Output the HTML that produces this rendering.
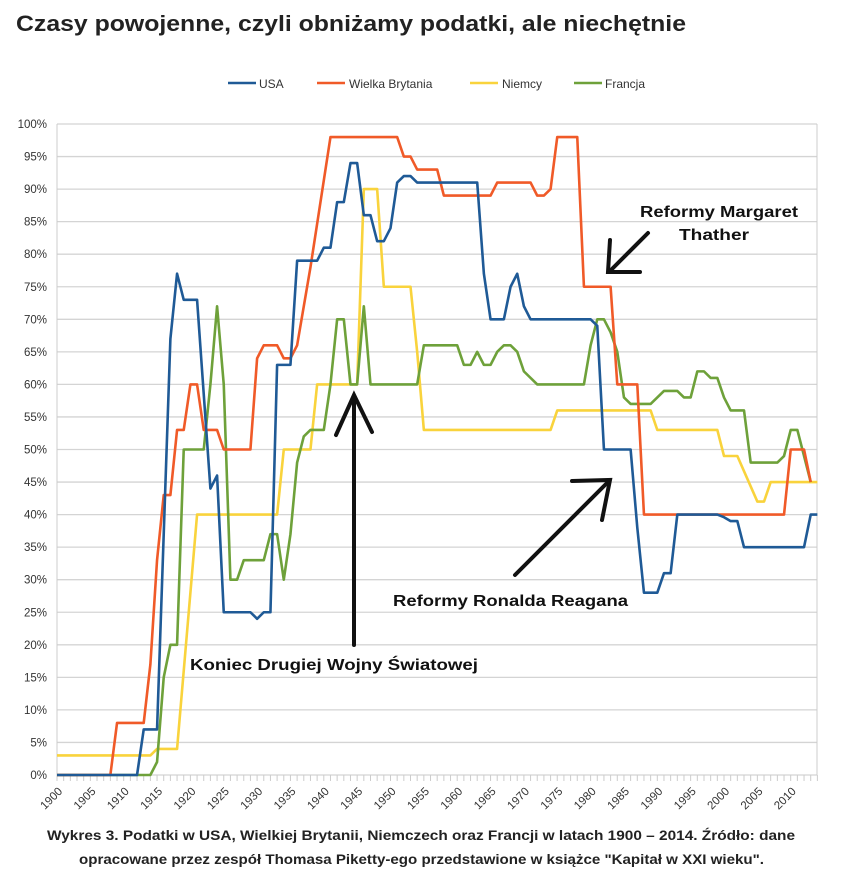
<!DOCTYPE html>
<html><head><meta charset="utf-8"><style>
body{margin:0;background:#fff;width:843px;height:878px;overflow:hidden;font-family:"Liberation Sans",sans-serif}
</style></head><body>
<svg id="s" width="843" height="878" xmlns="http://www.w3.org/2000/svg" font-family="Liberation Sans, sans-serif">
<text x="16" y="31" font-size="22" font-weight="bold" fill="#222" textLength="670" lengthAdjust="spacingAndGlyphs">Czasy powojenne, czyli obniżamy podatki, ale niechętnie</text>
<g id="grid"></g>
<g id="series" fill="none" stroke-width="2.6" stroke-linejoin="round"></g>
<g font-size="12" fill="#333">
<line x1="228" y1="83" x2="256" y2="83" stroke="#1f5a96" stroke-width="2.5"/><text x="259" y="88">USA</text>
<line x1="317" y1="83" x2="345" y2="83" stroke="#f05a28" stroke-width="2.5"/><text x="349" y="88">Wielka Brytania</text>
<line x1="470" y1="83" x2="498" y2="83" stroke="#f9d33c" stroke-width="2.5"/><text x="502" y="88">Niemcy</text>
<line x1="574" y1="83" x2="602" y2="83" stroke="#6ea13a" stroke-width="2.5"/><text x="605" y="88">Francja</text>
</g>
<g stroke="#111" stroke-width="4" fill="none" stroke-linecap="round">
<line x1="354" y1="645" x2="354" y2="398"/><polyline points="336,435 354,395 372,432"/>
<line x1="515" y1="575" x2="608" y2="482"/><polyline points="572,481 610,480 602,520"/>
<line x1="648" y1="233" x2="610" y2="271"/><polyline points="610,240 608,272 640,272"/>
</g>
<g font-size="16" font-weight="bold" fill="#111">
<text x="190" y="670" textLength="288" lengthAdjust="spacingAndGlyphs">Koniec Drugiej Wojny Światowej</text>
<text x="393" y="606" textLength="235" lengthAdjust="spacingAndGlyphs">Reformy Ronalda Reagana</text>
<text x="640" y="217" textLength="158" lengthAdjust="spacingAndGlyphs">Reformy Margaret</text>
<text x="679" y="240" textLength="70" lengthAdjust="spacingAndGlyphs">Thather</text>
</g>
<g font-size="14" font-weight="bold" fill="#222">
<text x="47" y="840" textLength="748" lengthAdjust="spacingAndGlyphs">Wykres 3. Podatki w USA, Wielkiej Brytanii, Niemczech oraz Francji w latach 1900 – 2014. Źródło: dane</text>
<text x="79" y="864" textLength="685" lengthAdjust="spacingAndGlyphs">opracowane przez zespół Thomasa Piketty-ego przedstawione w książce "Kapitał w XXI wieku".</text>
</g>
</svg>
<script>
function X(y){return 57+(y-1900)*6.67}
function Y(v){return 775-v*6.51}
var g=document.getElementById('grid'),h='';
for(var p=0;p<=100;p+=5){var y=Y(p);h+='<line x1="57" y1="'+y+'" x2="817" y2="'+y+'" stroke="#d4d4d4" stroke-width="1.3"/>';
h+='<text x="47" y="'+(y+4)+'" font-size="11.5" fill="#333" text-anchor="end">'+p+'%</text>';}
h+='<line x1="57" y1="124" x2="57" y2="775" stroke="#ccc"/><line x1="817" y1="124" x2="817" y2="775" stroke="#ccc"/>';
for(var yr=1900;yr<=2014;yr++){var x=X(yr);h+='<line x1="'+x+'" y1="775" x2="'+x+'" y2="781" stroke="#ccc"/>';
if(yr%5==0&&yr<=2010)h+='<text font-size="11.5" fill="#333" text-anchor="end" transform="translate('+(x+6)+',792) rotate(-45)">'+yr+'</text>';}
g.innerHTML=h;
function build(d){var pts=[];for(var i=0;i<d.length;i++){var a=d[i];for(var y=a[0];y<=a[1];y++)pts.push(X(y)+','+Y(a[2]));}return pts.join(' ');}
var S={
"#f9d33c":[[1900,1914,3],[1915,1918,4],[1921,1933,40],[1934,1938,50],[1939,1945,60],[1946,1948,90],[1949,1953,75],[1954,1954,65],[1955,1974,53],[1975,1989,56],[1990,1999,53],[2000,2002,49],[2005,2006,42],[2007,2014,45]],
"#6ea13a":[[1900,1914,0],[1915,1915,2],[1916,1916,15],[1917,1918,20],[1919,1922,50],[1923,1923,60],[1924,1924,72],[1925,1925,60],[1926,1927,30],[1928,1931,33],[1932,1933,37],[1934,1934,30],[1935,1935,37],[1936,1936,48],[1937,1937,52],[1938,1940,53],[1941,1941,60],[1942,1943,70],[1944,1945,60],[1946,1946,72],[1947,1954,60],[1955,1960,66],[1961,1962,63],[1963,1963,65],[1964,1965,63],[1966,1966,65],[1967,1968,66],[1969,1969,65],[1970,1970,62],[1972,1979,60],[1980,1980,66],[1981,1982,70],[1983,1983,68],[1984,1984,65],[1985,1985,58],[1986,1989,57],[1990,1990,58],[1991,1993,59],[1994,1995,58],[1996,1997,62],[1998,1999,61],[2000,2000,58],[2001,2003,56],[2004,2008,48],[2009,2009,49],[2010,2011,53],[2013,2013,45]],
"#f05a28":[[1900,1908,0],[1909,1913,8],[1914,1914,17],[1915,1915,33],[1916,1917,43],[1918,1919,53],[1920,1921,60],[1922,1924,53],[1925,1929,50],[1930,1930,64],[1931,1933,66],[1934,1935,64],[1936,1936,66],[1938,1938,78],[1941,1951,98],[1952,1953,95],[1954,1957,93],[1958,1965,89],[1966,1971,91],[1972,1973,89],[1974,1974,90],[1975,1978,98],[1979,1983,75],[1984,1987,60],[1988,2009,40],[2010,2012,50],[2013,2013,45]],
"#1f5a96":[[1900,1912,0],[1913,1915,7],[1917,1917,67],[1918,1918,77],[1919,1921,73],[1923,1923,44],[1924,1924,46],[1925,1929,25],[1930,1930,24],[1931,1932,25],[1933,1935,63],[1936,1939,79],[1940,1941,81],[1942,1943,88],[1944,1945,94],[1946,1947,86],[1948,1949,82],[1950,1950,84],[1951,1951,91],[1952,1953,92],[1954,1963,91],[1964,1964,77],[1965,1967,70],[1968,1968,75],[1969,1969,77],[1970,1970,72],[1971,1980,70],[1981,1981,69],[1982,1986,50],[1987,1987,38],[1988,1990,28],[1991,1992,31],[1993,1999,40],[2000,2000,39.6],[2001,2002,39],[2003,2012,35],[2013,2014,40]]};
var sg=document.getElementById('series'),o='';
for(var c in S)o+='<polyline stroke="'+c+'" points="'+build(S[c])+'"/>';
sg.innerHTML=o;
</script>
</body></html>
